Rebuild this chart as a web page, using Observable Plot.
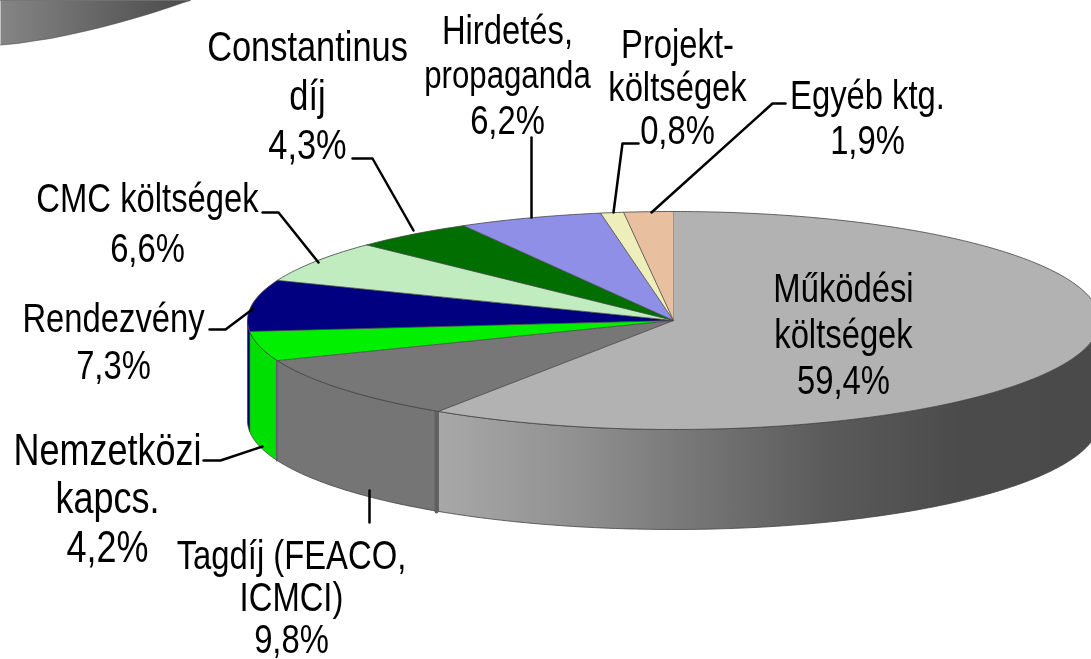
<!DOCTYPE html>
<html><head><meta charset="utf-8">
<style>html,body{margin:0;padding:0;background:#fff;overflow:hidden}svg{display:block}</style>
<script src="https://cdn.jsdelivr.net/npm/d3@7"></script>
<script src="https://cdn.jsdelivr.net/npm/@observablehq/plot@0.6"></script>
</head><body><script>
const labels = [["Működési","költségek","59,4%"],["Tagdíj (FEACO,","ICMCI)","9,8%"],["Nemzetközi","kapcs.","4,2%"],["Rendezvény","7,3%"],["CMC költségek","6,6%"],["Constantinus","díj","4,3%"],["Hirdetés,","propaganda","6,2%"],["Projekt-","költségek","0,8%"],["Egyéb ktg.","1,9%"]];
// slice sizes as they are drawn in the picture (percent of the full turn)
const sliceSizes = [59.3,9.7,4.4,7.6,6.2,4.6,5.46,0.87,1.87];
const topColors = ["#b2b2b2","#777777","#00f000","#000080","#c0ecc0","#006e00","#8f8fe8","#eeeebb","#e8c0a0"];
const sideColors = ["url(#sideMain)","#757575","#00e000","#000070","#000","#000","#000","#000","#000"];
// layout of the pie and labels
const cx=673, cy=320, rx=426, ry=109, depth=100;
const labelX=[843,291,107,113,147,307,507,677,867];
const labelFirstY=[288,555,450,318,198,47,30,44,95];
const labelStep=[46,42,48.5,47,50,49,45,43,45];
const labelSize=[41,41,45,41,41,43,41,41,41];
const leaderPaths=[
 [[369,490],[369,522]],
 [[203,460],[220,460],[262,446]],
 [[209,329],[225,329],[253,308]],
 [[262,212],[278,212],[318,262]],
 [[352,158],[372,158],[413,230]],
 [[531,137],[531,217]],
 [[638,143],[622,143],[613,212]],
 [[785,103],[772,103],[651,212]]
];
// bit of a second pie's rim at the top-left corner
const rimX=[0,17,33,50,67,83,100,117,133,150,167,183,190];
const rimY=[44.5,43,40.5,38,34.5,31,27,22.5,18,13,7.5,2,0];

const arcs=d3.pie().sort(null)(sliceSizes);
const pt=(a,dz=0)=>[cx+rx*Math.sin(a),cy-ry*Math.cos(a)+dz];
const arcPts=(a0,a1,dz=0)=>{const n=Math.max(2,Math.ceil(Math.abs(a1-a0)*60));return d3.range(n+1).map(i=>pt(a0+(a1-a0)*i/n,dz));};

const polys=[];
const add=(id,fill,pts)=>pts.forEach(p=>polys.push({id,fill,x:p[0],y:p[1]}));
arcs.forEach((d,i)=>{
  const a0=Math.max(d.startAngle,Math.PI/2),a1=Math.min(d.endAngle,3*Math.PI/2);
  if(a1<=a0)return;
  add("side"+i,sideColors[i],[...arcPts(a0,a1),...arcPts(a1,a0,depth)]);
});
const tops=[];
arcs.forEach((d,i)=>[[cx,cy],...arcPts(d.startAngle,d.endAngle)].forEach(p=>tops.push({id:"top"+i,fill:topColors[i],x:p[0],y:p[1]})));
const rim=[...rimX.map((x,i)=>({id:"rim",x,y:rimY[i]})),{id:"rim",x:0,y:0}];
const seams=[[arcs[0].endAngle,4],[arcs[1].endAngle,1.5]].flatMap(([a,w],i)=>{const p=pt(a),q=pt(a,depth);return [{id:i,w,x:p[0]-w/2,y:p[1]},{id:i,w,x:q[0]-w/2,y:q[1]}];});
const leaders=leaderPaths.flatMap((p,i)=>p.map(q=>({id:i,x:q[0],y:q[1]})));
const lines=labels.flatMap((ls,i)=>ls.map((text,j)=>({text,x:labelX[i],y:labelFirstY[i]+j*labelStep[i],size:text==="propaganda"?39:labelSize[i]})));

function gradient(id,x1,x2,stops){
  const g=d3.create("svg:linearGradient").attr("id",id).attr("gradientUnits","userSpaceOnUse").attr("x1",x1).attr("x2",x2).attr("y1",0).attr("y2",0);
  stops.forEach(([o,c])=>g.append("stop").attr("offset",o).attr("stop-color",c));
  return g.node();
}
const defs=()=>{
  const d=d3.create("svg:defs");
  d.append(()=>gradient("sideMain",438,1091,[[0,"#a8a8a8"],[.2,"#929292"],[.4,"#757575"],[.6,"#5a5a5a"],[.8,"#4b4b4b"],[1,"#4a4a4a"]]));
  d.append(()=>gradient("rimFill",0,193,[[0,"#858585"],[.5,"#666"],[1,"#4a4a4a"]]));
  return d.node();
};
const squeeze=(index,scales,values,dims,ctx,next)=>{
  const g=next(index,scales,values,dims,ctx);
  d3.select(g).selectAll("text").attr("transform",function(){return (this.getAttribute("transform")||"")+" scale(0.8,1)";});
  return g;
};

const chart=Plot.plot({
  width:1091,height:659,margin:0,
  x:{domain:[0,1091],range:[0,1091],axis:null},
  y:{domain:[0,659],range:[0,659],axis:null},
  color:{type:"identity"},
  style:{background:"#fff",filter:"blur(0.5px)"},
  marks:[
    defs,
    Plot.line(rim,{x:"x",y:"y",z:"id",fill:"url(#rimFill)",stroke:"#444",strokeWidth:0.6}),
    Plot.line(polys,{x:"x",y:"y",z:"id",fill:"fill",stroke:"#444",strokeWidth:0.8}),
    Plot.line(seams,{x:"x",y:"y",z:"id",stroke:"#606060",strokeWidth:"w"}),
    Plot.line(tops,{x:"x",y:"y",z:"id",fill:"fill",stroke:"#444",strokeWidth:0.8}),
    Plot.line(leaders,{x:"x",y:"y",z:"id",stroke:"#000",strokeWidth:2.5}),
    Plot.text(lines,{x:"x",y:"y",text:"text",fontSize:"size",fontFamily:"'Liberation Sans',Arial,sans-serif",fill:"#000",textAnchor:"middle",lineAnchor:"middle",render:squeeze})
  ]
});
document.body.appendChild(chart);
</script></body></html>
